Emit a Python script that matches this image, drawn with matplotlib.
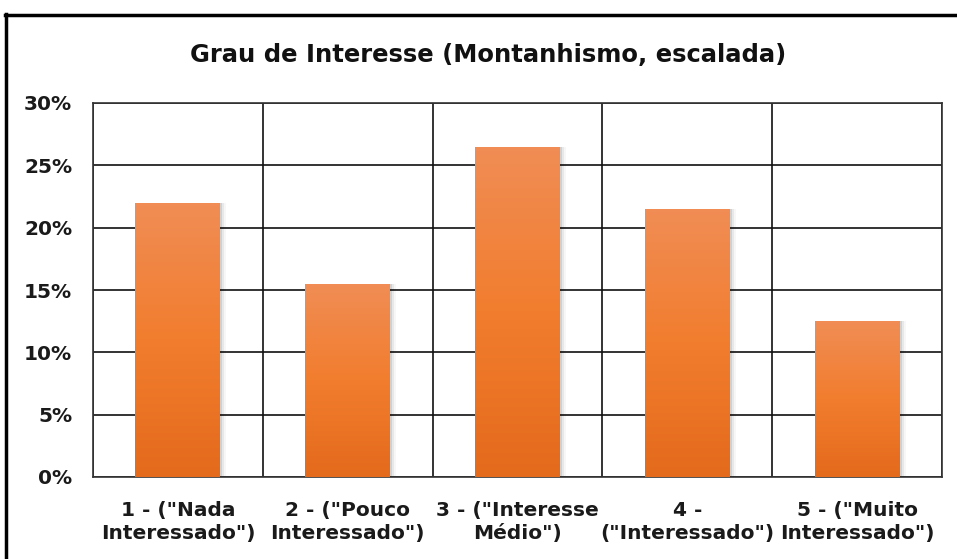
import numpy as np
import matplotlib
matplotlib.use("Agg")
import matplotlib.pyplot as plt
from matplotlib.lines import Line2D
from matplotlib.colors import LinearSegmentedColormap

categories = ['1 - ("Nada\nInteressado")', '2 - ("Pouco\nInteressado")',
              '3 - ("Interesse\nMédio")', '4 -\n("Interessado")',
              '5 - ("Muito\nInteressado")']
values = [22.0, 15.5, 26.5, 21.5, 12.5]
yticks = [0, 5, 10, 15, 20, 25, 30]
title = "Grau de Interesse (Montanhismo, escalada)"

plt.rcParams['font.family'] = ['DejaVu Sans']
W, H = 957, 559
fig = plt.figure(figsize=(W / 100, H / 100), dpi=100)
ax = fig.add_axes([93 / W, 1 - 477 / H, (942 - 93) / W, (477 - 103) / H])

x = np.arange(len(values))
bars = ax.bar(x, values, width=0.5, color='none', zorder=3)

# vertical gradient inside each bar (light on top, darker at the base)
grad = LinearSegmentedColormap.from_list(
    'bar', ['#E46A1C', '#F27D2E', '#F08D55'])
for b in bars:
    x0, y0 = b.get_x(), b.get_y()
    w, h = b.get_width(), b.get_height()
    # soft shadow to the right
    for k, a in enumerate([0.10, 0.06, 0.03]):
        ax.bar(x0 + w / 2 + 0.012 * (k + 1), h, width=w, color='black',
               alpha=a, zorder=2.5, linewidth=0)
    img = ax.imshow(np.linspace(0, 1, 256).reshape(-1, 1), cmap=grad,
                    extent=[x0, x0 + w, y0, y0 + h], origin='lower',
                    aspect='auto', zorder=3)
    img.set_clip_path(b)

ax.set_xlim(-0.5, len(values) - 0.5)
ax.set_ylim(0, 30)
ax.set_yticks(yticks)
ax.set_yticklabels([f"{v}%" for v in yticks])
ax.set_xticks(x)
ax.set_xticklabels(categories)
ax.set_xticks(np.arange(len(values) + 1) - 0.5, minor=True)
ax.tick_params(axis='both', which='both', length=0, labelsize=14.5)
ax.tick_params(axis='y', pad=15)
ax.tick_params(axis='x', pad=17)
for lab in ax.get_xticklabels() + ax.get_yticklabels():
    lab.set_fontweight('bold')
    lab.set_color('#1a1a1a')
for lab in ax.get_xticklabels():
    lab.set_linespacing(1.3)

ax.grid(axis='y', which='major', color='#111111', linewidth=1.2, zorder=1)
ax.grid(axis='x', which='minor', color='#111111', linewidth=1.2, zorder=1)
ax.grid(axis='x', which='major', visible=False)
for s in ax.spines.values():
    s.set_color('#333333')
    s.set_linewidth(1.2)
ax.set_axisbelow(True)

fig.text((193 + 783) / 2 / W, 1 - 55 / H, title, ha='center', va='center',
         fontsize=17.5, fontweight='bold', color='#111111')

# chart frame (left and top edges)
fig.add_artist(Line2D([6 / W, 6 / W], [0, 1 - 14 / H], color='black',
                      linewidth=2.5, transform=fig.transFigure))
fig.add_artist(Line2D([5 / W, 1], [1 - 15 / H, 1 - 15 / H], color='black',
                      linewidth=2.5, transform=fig.transFigure))

fig.savefig("out.png", dpi=100)
